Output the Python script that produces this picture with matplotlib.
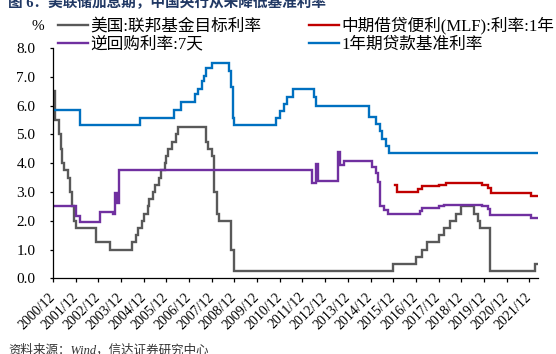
import pandas as pd
import matplotlib
matplotlib.use("Agg")
import matplotlib.pyplot as plt

plt.rcParams['font.family'] = ['Liberation Serif', 'Noto Sans CJK SC']
plt.rcParams['axes.unicode_minus'] = False

# ==== DATA (month, value) ====
END = "2022-04-20"

fed_dates = ["2000-12", "2001-01", "2001-03", "2001-04", "2001-05", "2001-06", "2001-08",
             "2001-09", "2001-10", "2001-11", "2001-12", "2002-11", "2003-06", "2004-06",
             "2004-08", "2004-09", "2004-11", "2004-12", "2005-02", "2005-03", "2005-05",
             "2005-06", "2005-08", "2005-09", "2005-11", "2005-12", "2006-01", "2006-03",
             "2006-05", "2006-06", "2007-09", "2007-10", "2007-12", "2008-01", "2008-03",
             "2008-04", "2008-10", "2008-12", "2015-12", "2016-12", "2017-03", "2017-06",
             "2017-12", "2018-03", "2018-06", "2018-09", "2018-12", "2019-07", "2019-09",
             "2019-10", "2020-03", "2022-03"]
fed_vals = [6.50, 5.50, 5.00, 4.50, 4.00, 3.75, 3.50,
            3.00, 2.50, 2.00, 1.75, 1.25, 1.00, 1.25,
            1.50, 1.75, 2.00, 2.25, 2.50, 2.75, 3.00,
            3.25, 3.50, 3.75, 4.00, 4.25, 4.50, 4.75,
            5.00, 5.25, 4.75, 4.50, 4.25, 3.00, 2.25,
            2.00, 1.00, 0.25, 0.50, 0.75, 1.00, 1.25,
            1.50, 1.75, 2.00, 2.25, 2.50, 2.25, 2.00,
            1.75, 0.25, 0.50]

rr_dates = ["2000-12", "2001-12", "2002-02", "2003-01", "2003-08", "2003-09", "2003-10",
            "2003-11", "2012-05", "2012-07", "2012-08", "2013-07", "2013-08", "2013-10",
            "2015-01", "2015-03", "2015-04", "2015-05", "2015-07", "2015-09", "2017-02",
            "2017-03", "2017-12", "2018-03", "2019-11", "2020-02", "2020-03", "2022-01"]
rr_vals = [2.50, 2.15, 1.97, 2.30, 2.23, 2.96, 2.60,
           3.76, 3.30, 3.97, 3.39, 4.40, 3.93, 4.08,
           3.85, 3.65, 3.35, 2.50, 2.37, 2.25, 2.35,
           2.45, 2.50, 2.55, 2.50, 2.40, 2.20, 2.10]

mlf_dates = ["2016-01", "2016-02", "2017-01", "2017-03", "2017-12", "2018-04",
             "2019-11", "2020-02", "2020-04", "2022-01"]
mlf_vals = [3.25, 3.00, 3.10, 3.20, 3.25, 3.30, 3.25, 3.15, 2.95, 2.85]

loan_dates = ["2000-12", "2002-02", "2004-10", "2006-04", "2006-08", "2007-03", "2007-05",
              "2007-07", "2007-08", "2007-09", "2007-12", "2008-09", "2008-10", "2008-11",
              "2008-12", "2010-10", "2010-12", "2011-02", "2011-04", "2011-07", "2012-06",
              "2012-07", "2014-11", "2015-03", "2015-05", "2015-06", "2015-08", "2015-10"]
loan_vals = [5.85, 5.31, 5.58, 5.85, 6.12, 6.39, 6.57,
             6.84, 7.02, 7.29, 7.47, 7.20, 6.66, 5.58,
             5.31, 5.56, 5.81, 6.06, 6.31, 6.56, 6.31,
             6.00, 5.60, 5.35, 5.10, 4.85, 4.60, 4.35]

tick_years = list(range(2000, 2022))
tick_labels = [f"{y}/12" for y in tick_years]


def series(dates, vals):
    # extend last value to the end so step covers whole range
    d = [pd.Timestamp(s + "-01") for s in dates] + [pd.Timestamp(END)]
    v = list(vals) + [vals[-1]]
    return d, v


# ==== FIGURE ====
fig = plt.figure(figsize=(5.56, 3.54), dpi=100)
ax = fig.add_axes([53 / 556, 1 - 278.3 / 354, 485 / 556, 230.3 / 354])

lw = 1.7
kw = dict(where="post", lw=lw, solid_joinstyle="miter")
h_fed, = ax.step(*series(fed_dates, fed_vals), color="#595959", **kw)
h_mlf, = ax.step(*series(mlf_dates, mlf_vals), color="#C00000", **kw)
h_rr, = ax.step(*series(rr_dates, rr_vals), color="#7030A0", **kw)
h_loan, = ax.step(*series(loan_dates, loan_vals), color="#0070C0", **kw)

ax.set_xlim(pd.Timestamp("2000-12-01"), pd.Timestamp(END))
ax.set_ylim(0, 8)
ax.set_yticks([0, 1, 2, 3, 4, 5, 6, 7, 8])
ax.set_yticklabels([f"{v:.1f}" for v in range(9)], fontsize=11)
ax.set_xticks([pd.Timestamp(f"{y}-12-01") for y in tick_years])
ax.set_xticklabels(tick_labels, rotation=45, ha="right", va="center",
                   rotation_mode="anchor", fontsize=10)

for s in ["top", "right"]:
    ax.spines[s].set_visible(False)
for s in ["left", "bottom"]:
    ax.spines[s].set_linewidth(0.9)
ax.tick_params(axis="y", direction="out", length=2.2, width=0.9, pad=10.5)
ax.tick_params(axis="x", direction="out", length=3, width=0.9, pad=9)

fig.legend([h_fed, h_rr, h_mlf, h_loan],
           ["美国:联邦基金目标利率", "逆回购利率:7天",
            "中期借贷便利(MLF):利率:1年", "1年期贷款基准利率"],
           ncol=2, loc="upper left", bbox_to_anchor=(58 / 556, 1 - 17 / 354),
           frameon=False, fontsize=12, handlelength=1.8, handletextpad=0.12,
           columnspacing=2.9, labelspacing=0.1, borderpad=0, borderaxespad=0)

fig.text(38 / 556, 1 - 27 / 354, "%", fontsize=11, ha="center", va="center")
fig.text(8 / 556, 1 - 3 / 354, "图 6：美联储加息期，中国央行从未降低基准利率",
         fontsize=10.5, fontweight="bold", color="#203864", ha="left", va="center")
fig.text(8 / 556, 1 - 350 / 354, "资料来源：Wind，信达证券研究中心",
         fontsize=9, style="italic", color="#333333", ha="left", va="center")

fig.savefig("out.png", dpi=100)
